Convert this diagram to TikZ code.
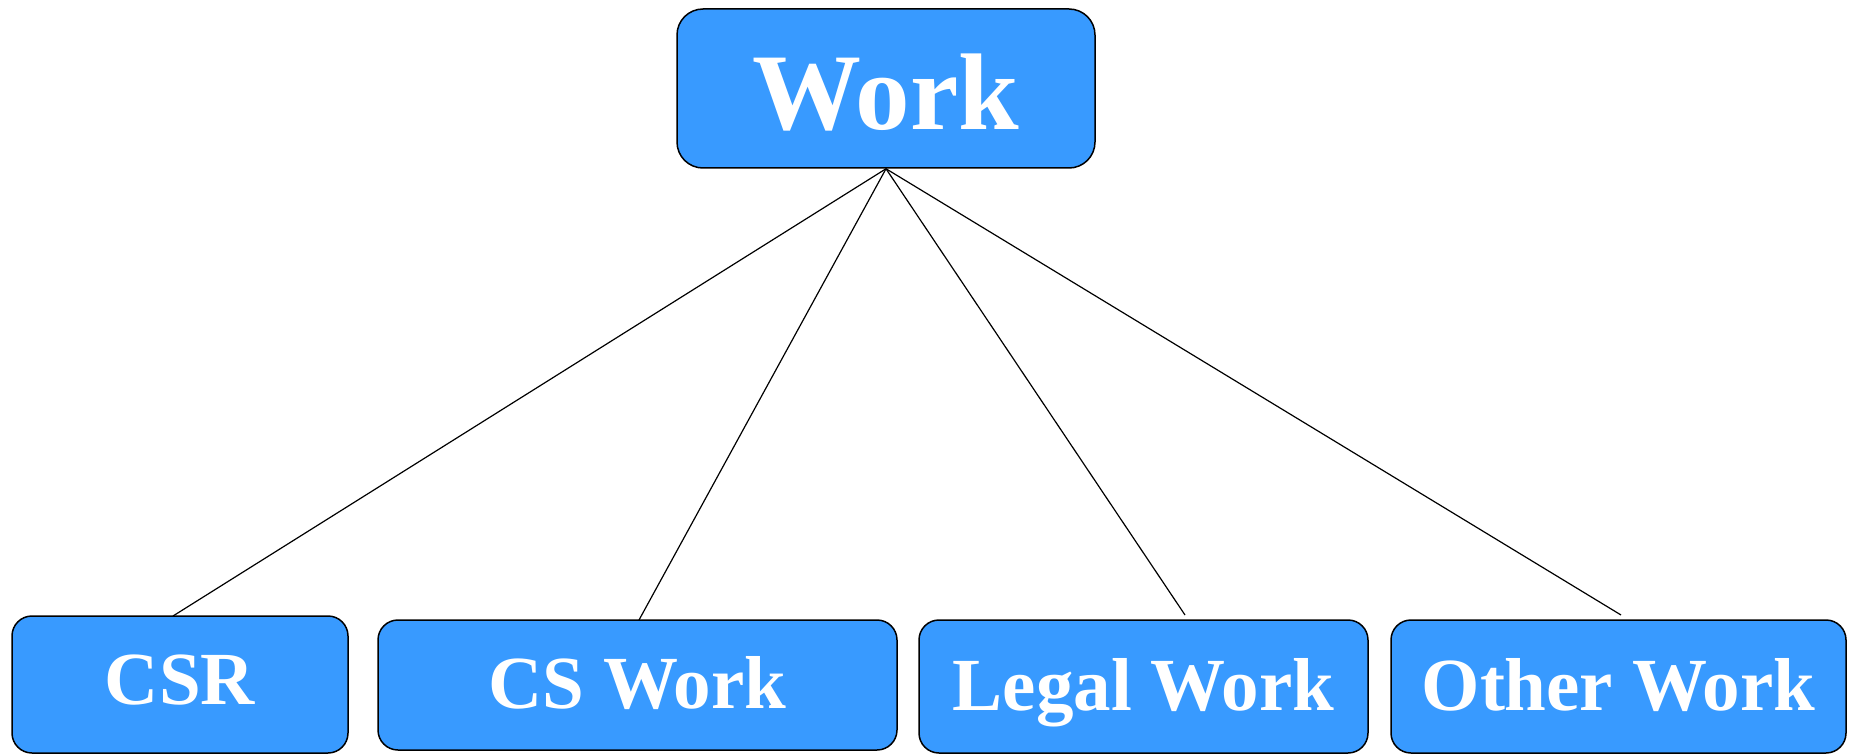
\documentclass[tikz,border=0pt]{standalone}
\usepackage{fontspec}
\setmainfont{Liberation Serif}
\definecolor{boxblue}{RGB}{56,154,255}
\begin{document}
\begin{tikzpicture}[x=1pt,y=-1pt,
  box/.style={draw=black, line width=1.5pt, fill=boxblue, text=white, inner sep=0pt, align=center},
  topbox/.style={box, rounded corners=26pt, font=\fontsize{109}{120}\selectfont\bfseries},
  subbox/.style={box, rounded corners=20pt, font=\fontsize{75}{84}\selectfont\bfseries},
  base/.style={text height=#1, text depth=0pt},
  link/.style={draw=black, line width=1.2pt}]
\useasboundingbox (0,0) rectangle (1852,754);
\node[topbox, minimum width=418pt, minimum height=159pt, base=83pt] (work) at (886,88.5) {Work};
\node[subbox, minimum width=336pt, minimum height=137pt, base=39pt] (csr) at (180,684.5) {CSR};
\node[subbox, minimum width=519pt, minimum height=130pt, base=46pt] (cs) at (637.5,685) {CS Work};
\node[subbox, minimum width=449pt, minimum height=133pt, base=47pt] (legal) at (1143.5,686.5) {Legal Work};
\node[subbox, minimum width=455pt, minimum height=133pt, base=47pt] (other) at (1618.5,686.5) {Other Work};
\coordinate (ecsr) at (173,616);
\coordinate (ecs) at (639,620);
\coordinate (elegal) at (1185,615);
\coordinate (eother) at (1621,615);
\draw[link] (work.south) -- (ecsr);
\draw[link] (work.south) -- (ecs);
\draw[link] (work.south) -- (elegal);
\draw[link] (work.south) -- (eother);
\end{tikzpicture}
\end{document}
